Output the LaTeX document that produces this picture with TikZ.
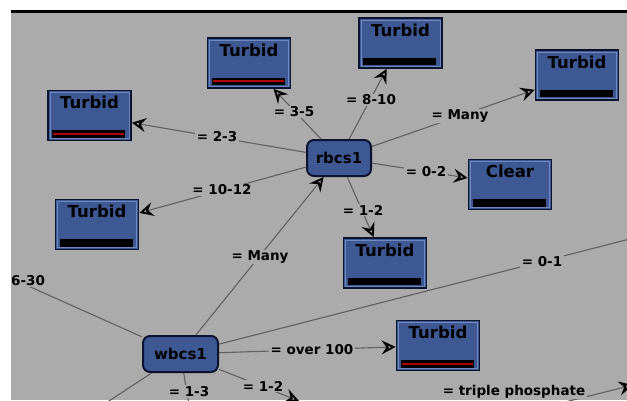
\documentclass[tikz,border=0pt]{standalone}
\usepackage{fontspec}
\newfontfamily\dv{DejaVu Sans}
\usetikzlibrary{arrows.meta}
\definecolor{bgg}{HTML}{ABABAB}
\definecolor{boxblue}{HTML}{3E5894}
\definecolor{boxedge}{HTML}{0C1330}
\definecolor{bevelc}{HTML}{7088BE}
\definecolor{edgegray}{HTML}{606060}
\definecolor{barred}{HTML}{B00000}
\newcommand\leafpic[1]{%
  \draw[bevelc, line width=0.8pt] ([xshift=2pt,yshift=2pt]path picture bounding box.south west) rectangle ([xshift=-2pt,yshift=-2pt]path picture bounding box.north east);
  \fill[black] ([xshift=4pt,yshift=3pt]path picture bounding box.south west) rectangle ([xshift=-6pt,yshift=10.5pt]path picture bounding box.south east);
  \fill[#1] ([xshift=5pt,yshift=5.8pt]path picture bounding box.south west) rectangle ([xshift=-7pt,yshift=8pt]path picture bounding box.south east);
}
\tikzset{
  leaf/.style={rectangle, draw=boxedge, line width=1.8pt, fill=boxblue,
    minimum width=83pt, minimum height=50pt, inner sep=0pt,
    text height=18pt, text depth=32pt,
    font=\dv\bfseries\fontsize{16.5}{16.5}\selectfont,
    path picture={\leafpic{#1}}},
  leaf/.default=black,
  decision/.style={rectangle, rounded corners=7pt, draw=boxedge, line width=2pt,
    fill=boxblue, minimum height=36pt, inner sep=0pt,
    font=\dv\bfseries\fontsize{15}{15}\selectfont},
  lbl/.style={fill=bgg, inner xsep=2pt, inner ysep=1pt,
    font=\dv\bfseries\fontsize{13.5}{13.5}\selectfont},
  link/.style={draw=edgegray, line width=1.1pt,
    -{Stealth[open, length=14pt, width=14pt, inset=5pt, line width=1.9pt, color=black]}},
}
\begin{document}
\begin{tikzpicture}[x=1pt, y=-1pt]
\useasboundingbox (0,0) rectangle (627,400);
\fill[white] (0,0) rectangle (627,400);
\fill[bgg] (11,13) rectangle (627,400);
\fill[black] (11,10) rectangle (627,13);
\begin{scope}
\clip (11,13) rectangle (627,400);
% decision nodes
\node[decision, minimum width=64pt] (rbcs1) at (339,158) {rbcs1};
\node[decision, minimum width=75pt] (wbcs1) at (180.5,354) {wbcs1};
% leaves
\node[leaf=barred] (t1) at (249,63) {Turbid};
\node[leaf=barred] (t2) at (89.5,115.5) {Turbid};
\node[leaf] (t3) at (400.5,43) {Turbid};
\node[leaf] (t4) at (577,75) {Turbid};
\node[leaf] (clear) at (510,184.5) {Clear};
\node[leaf] (t5) at (97,224.5) {Turbid};
\node[leaf] (t6) at (385,263) {Turbid};
\node[leaf=barred] (t7) at (438,345.5) {Turbid};
% off-picture ends
\coordinate (left30) at (-30,260);
\coordinate (right01) at (700,221);
\coordinate (down12) at (299,401);
\coordinate (down13) at (195,440);
\coordinate (downleft) at (80,420);
\coordinate (tpstart) at (270,476);
\coordinate (tpend) at (633,385);
% connectors
\draw[link] (rbcs1) -- (t2);
\draw[link] (rbcs1) -- (t1);
\draw[link] (rbcs1) -- (t3);
\draw[link] (rbcs1) -- (t4);
\draw[link] (rbcs1) -- (clear);
\draw[link] (rbcs1) -- (t5);
\draw[link] (rbcs1) -- (t6);
\draw[link] (wbcs1) -- (rbcs1);
\draw[link] (wbcs1) -- (left30);
\draw[link] (wbcs1) -- (right01);
\draw[link] (wbcs1) -- (t7);
\draw[link] (wbcs1) -- (down12);
\draw[link] (wbcs1) -- (down13);
\draw[link] (wbcs1) -- (downleft);
\draw[link] (tpstart) -- (tpend);
% labels
\node[lbl] (l23) at (217,137) {= 2-3};
\node[lbl] (l35) at (294,112) {= 3-5};
\node[lbl] (l810) at (371,100) {= 8-10};
\node[lbl] (lmany1) at (460,116) {= Many};
\node[lbl] (l02) at (426,171.5) {= 0-2};
\node[lbl] (l1012) at (222,190) {= 10-12};
\node[lbl] (l12a) at (363,210) {= 1-2};
\node[lbl] (lmany2) at (260,257) {= Many};
\node[lbl, anchor=west] (l630) at (9,281) {6-30};
\node[lbl] (l01) at (542,261.5) {= 0-1};
\node[lbl] (l100) at (312,350) {= over 100};
\node[lbl] (l12b) at (263,386) {= 1-2};
\node[lbl] (l13) at (189,391.5) {= 1-3};
\node[lbl] (ltp) at (514,391.5) {= triple phosphate};
\end{scope}
\end{tikzpicture}
\end{document}
